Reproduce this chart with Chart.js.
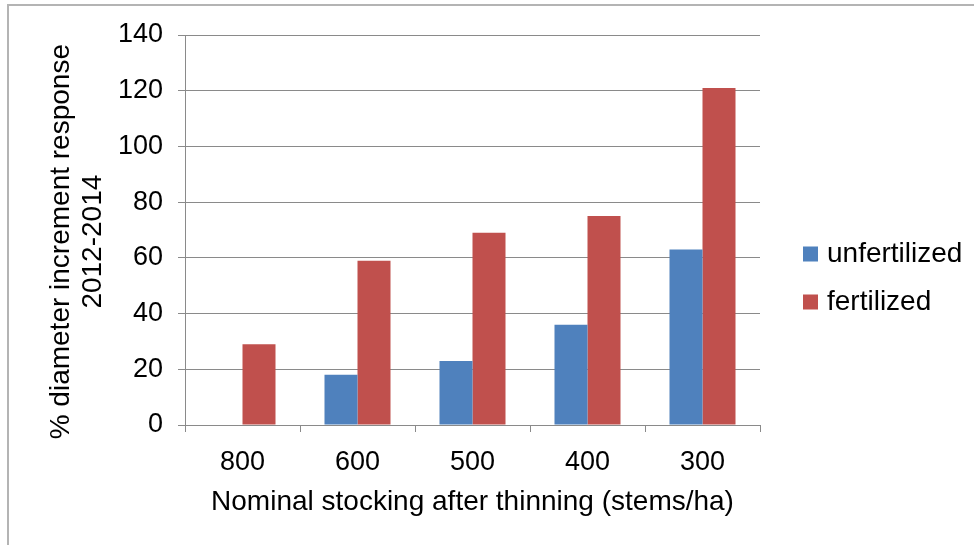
<!DOCTYPE html>
<html>
<head>
<meta charset="utf-8">
<script src="https://cdn.jsdelivr.net/npm/chart.js@4.4.1/dist/chart.umd.min.js"></script>
<style>
html, body { margin: 0; padding: 0; background: #fff; }
#wrap { position: relative; width: 974px; height: 545px; overflow: hidden; }
#frame { position: absolute; left: 7px; top: 4px; width: 1000px; height: 600px;
	border-left: 2px solid #b4b4b4; border-top: 2px solid #b4b4b4; }
#chart { position: absolute; left: 0; top: 0; }
</style>
</head>
<body>
<div id="wrap">
	<div id="frame"></div>
	<canvas id="chart" width="974" height="545"></canvas>
</div>
<script>
const categories = ['800', '600', '500', '400', '300'];
const unfertilized = [null, 18, 23, 36, 63];
const fertilized = [29, 59, 69, 75, 121];
const yMin = 0, yMax = 140, yStep = 20;

const FONT = '"Liberation Sans", Arial, sans-serif';
const GRID = '#8a8a8a';
const NB = '\u00a0\u00a0\u00a0'; // nudges the rotated title down a little, as in the original

// legend drawn beside the plot like the original
const sideLegend = {
	id: 'sideLegend',
	afterDraw(chart) {
		const ctx = chart.ctx;
		ctx.save();
		ctx.font = '28px ' + FONT;
		ctx.textBaseline = 'middle';
		ctx.textAlign = 'left';
		chart.data.datasets.forEach((ds, i) => {
			const y = 254 + i * 48;
			ctx.fillStyle = ds.backgroundColor;
			ctx.fillRect(803, y - 7.5, 15, 15);
			ctx.fillStyle = '#000';
			ctx.fillText(ds.label, 827, y);
		});
		ctx.restore();
	}
};

var chart = new Chart(document.getElementById('chart'), {
	type: 'bar',
	data: {
		labels: categories,
		datasets: [{
			label: 'unfertilized',
			data: unfertilized,
			backgroundColor: '#4f81bd',
			borderWidth: 0
		},
		{
			label: 'fertilized',
			data: fertilized,
			backgroundColor: '#c0504d',
			borderWidth: 0
		}]
	},
	options: {
		responsive: false,
		animation: false,
		layout: { padding: { left: 41, top: 35, right: 214, bottom: 23 } },
		datasets: { bar: { categoryPercentage: 0.574, barPercentage: 1 } },
		plugins: {
			legend: { display: false },
			tooltip: { enabled: false }
		},
		scales: {
			x: {
				afterFit(scale) { scale.height = 97; },
				grid: { display: true, drawOnChartArea: false, drawTicks: true, tickLength: 7, color: GRID, offset: true },
				border: { color: GRID },
				ticks: { color: '#000', font: { family: FONT, size: 27 }, padding: 14 },
				title: {
					display: true,
					text: 'Nominal stocking after thinning (stems/ha)',
					color: '#000',
					font: { family: FONT, size: 28, lineHeight: 1.15 },
					padding: { top: 4, bottom: 4 }
				}
			},
			y: {
				min: yMin,
				max: yMax,
				afterFit(scale) { scale.width = 144; },
				grid: { color: GRID, tickLength: 7 },
				border: { color: GRID },
				ticks: { stepSize: yStep, color: '#000', font: { family: FONT, size: 27 }, padding: 15 },
				title: {
					display: true,
					text: ['% diameter increment response' + NB, '2012-2014' + NB],
					color: '#000',
					font: { family: FONT, size: 28, lineHeight: 1.15 },
					padding: { top: 4, bottom: 4 }
				}
			}
		}
	},
	plugins: [sideLegend]
});
</script>
</body>
</html>
